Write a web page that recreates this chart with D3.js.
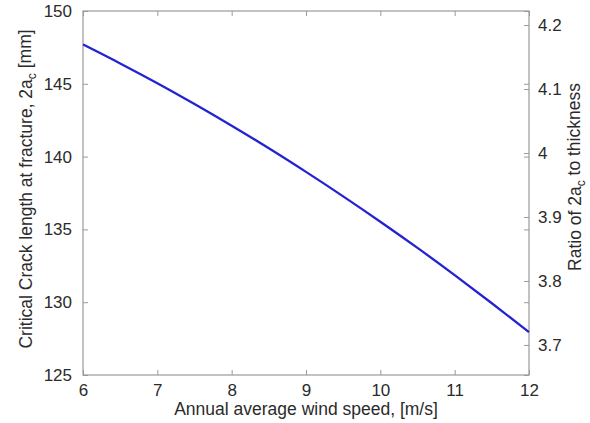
<!DOCTYPE html>
<html>
<head>
<meta charset="utf-8">
<script src="https://cdn.jsdelivr.net/npm/d3@7"></script>
<style>
  html, body { margin: 0; padding: 0; background: #fff; }
  svg { display: block; }
  text { font-family: "Liberation Sans", Arial, sans-serif; fill: #2b2b2b; }
</style>
</head>
<body>
<svg id="chart" width="590" height="423"></svg>
<script>
// Wind speed (m/s) and critical crack length at fracture, 2a_c (mm)
const windSpeed = [6, 6.5, 7, 7.5, 8, 8.5, 9, 9.5, 10, 10.5, 11, 11.5, 12];
const crackLength = [147.70, 146.40, 145.04, 143.61, 142.12, 140.57, 138.95, 137.27, 135.53, 133.73, 131.86, 129.93, 127.94];

const xTicks = [6, 7, 8, 9, 10, 11, 12];
const yTicks = [125, 130, 135, 140, 145, 150];
const ratioTicks = [3.7, 3.8, 3.9, 4, 4.1, 4.2];

const xDomain = [6, 12];
const yDomain = [125, 150];
const ratioDomain = [3.653, 4.222];

const margin = { left: 83, right: 61, top: 11, bottom: 48 };
const W = 590, H = 423;
const iw = W - margin.left - margin.right;
const ih = H - margin.top - margin.bottom;

const svg = d3.select("#chart");
const g = svg.append("g").attr("transform", `translate(${margin.left},${margin.top})`);

const x = d3.scaleLinear().domain(xDomain).range([0, iw]);
const y = d3.scaleLinear().domain(yDomain).range([ih, 0]);
const yR = d3.scaleLinear().domain(ratioDomain).range([ih, 0]);

const axisColor = "#9a9a9a";
const tickLen = 5;
const fontSize = 17;

function styleAxis(sel) {
  sel.select(".domain").remove();
  sel.selectAll(".tick line").attr("stroke", axisColor).attr("stroke-width", 1);
  sel.selectAll(".tick text").style("font-size", fontSize + "px").attr("fill", "#2b2b2b");
}

// Bottom axis (ticks point inward)
const bottomAxis = g.append("g").attr("transform", `translate(0,${ih})`)
  .call(d3.axisBottom(x).tickValues(xTicks).tickFormat(d3.format("d"))
    .tickSizeInner(-tickLen).tickSizeOuter(0).tickPadding(9));
styleAxis(bottomAxis);
bottomAxis.selectAll(".tick text").attr("dy", "0.71em");

// Top mirror ticks
const topAxis = g.append("g")
  .call(d3.axisTop(x).tickValues(xTicks).tickFormat("").tickSizeInner(-tickLen).tickSizeOuter(0));
styleAxis(topAxis);

// Left axis
const leftAxis = g.append("g")
  .call(d3.axisLeft(y).tickValues(yTicks).tickFormat(d3.format("d"))
    .tickSizeInner(-tickLen).tickSizeOuter(0).tickPadding(11));
styleAxis(leftAxis);

// Right mirror of left ticks
const rightMirror = g.append("g").attr("transform", `translate(${iw},0)`)
  .call(d3.axisRight(y).tickValues(yTicks).tickFormat("").tickSizeInner(-tickLen).tickSizeOuter(0));
styleAxis(rightMirror);

// Right axis: ratio to thickness
const rightAxis = g.append("g").attr("transform", `translate(${iw},0)`)
  .call(d3.axisRight(yR).tickValues(ratioTicks).tickFormat(d => d3.format("")(d))
    .tickSizeInner(-tickLen).tickSizeOuter(0).tickPadding(9));
styleAxis(rightAxis);

// Plot box
g.append("rect").attr("x", 0).attr("y", 0).attr("width", iw).attr("height", ih)
  .attr("fill", "none").attr("stroke", axisColor).attr("stroke-width", 1.2);

// Curve
const line = d3.line().x((d, i) => x(windSpeed[i])).y(d => y(d)).curve(d3.curveMonotoneX);
g.append("path").datum(crackLength)
  .attr("d", line)
  .attr("fill", "none")
  .attr("stroke", "#2323d2")
  .attr("stroke-width", 2.3)
  .attr("stroke-linejoin", "round");

// Axis titles
const labelSize = 17.5;
svg.append("text")
  .attr("x", margin.left + iw / 2).attr("y", 415)
  .attr("text-anchor", "middle")
  .style("font-size", labelSize + "px")
  .text("Annual average wind speed, [m/s]");

const yl = svg.append("text")
  .attr("transform", `translate(32,${margin.top + ih / 2 - 4}) rotate(-90)`)
  .attr("text-anchor", "middle")
  .style("font-size", labelSize + "px");
yl.append("tspan").text("Critical Crack length at fracture, 2a");
yl.append("tspan").attr("dy", "0.3em").style("font-size", "12px").text("c");
yl.append("tspan").attr("dy", "-0.25em").text(" [mm]");

const yr = svg.append("text")
  .attr("transform", `translate(581,177) rotate(-90)`)
  .attr("text-anchor", "middle")
  .style("font-size", labelSize + "px");
yr.append("tspan").text("Ratio of 2a");
yr.append("tspan").attr("dy", "0.3em").style("font-size", "12px").text("c");
yr.append("tspan").attr("dy", "-0.25em").text(" to thickness");
</script>
</body>
</html>
